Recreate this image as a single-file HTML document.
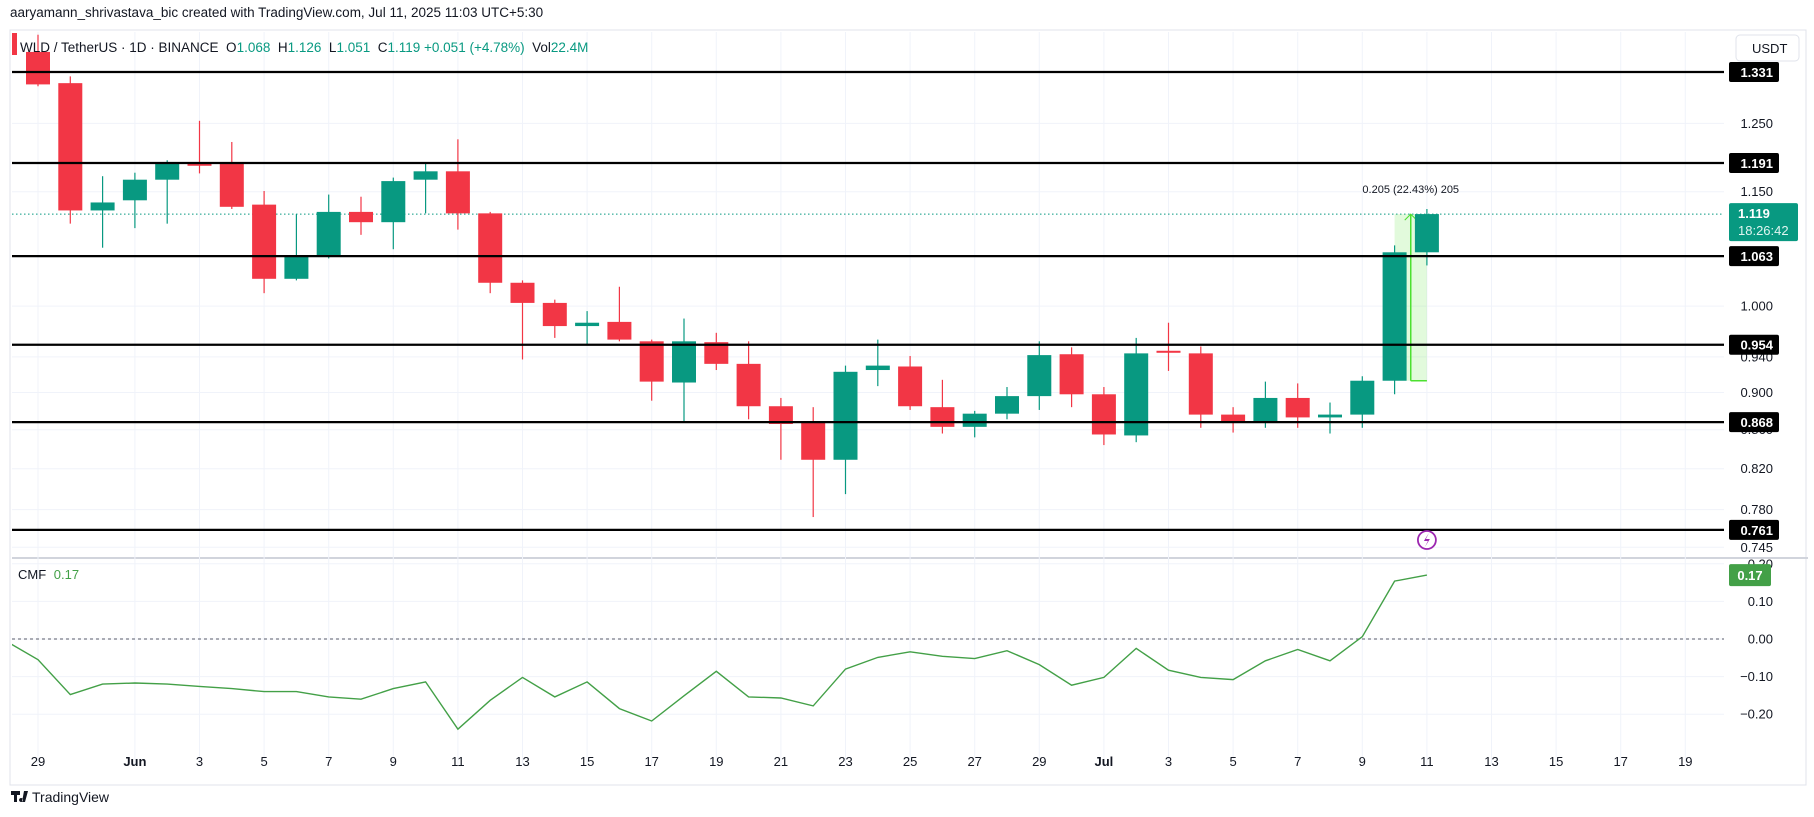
<!DOCTYPE html>
<html><head><meta charset="utf-8">
<style>
html,body{margin:0;padding:0;background:#fff;width:1814px;height:817px;overflow:hidden;font-family:"Liberation Sans",sans-serif;}
svg{display:block}
</style></head>
<body>
<svg id="chart" width="1814" height="817" xmlns="http://www.w3.org/2000/svg" font-family="Liberation Sans, sans-serif"></svg>
<script>
// ---- data ----
const dates = ["May29","May30","May31","Jun1","Jun2","Jun3","Jun4","Jun5","Jun6","Jun7","Jun8","Jun9","Jun10","Jun11","Jun12","Jun13","Jun14","Jun15","Jun16","Jun17","Jun18","Jun19","Jun20","Jun21","Jun22","Jun23","Jun24","Jun25","Jun26","Jun27","Jun28","Jun29","Jun30","Jul1","Jul2","Jul3","Jul4","Jul5","Jul6","Jul7","Jul8","Jul9","Jul10","Jul11"];
const opens  = [1.364,1.313,1.124,1.138,1.167,1.190,1.191,1.132,1.034,1.062,1.122,1.108,1.167,1.179,1.120,1.029,1.004,0.976,0.981,0.958,0.911,0.957,0.932,0.885,0.868,0.829,0.925,0.929,0.884,0.863,0.877,0.896,0.943,0.898,0.854,0.947,0.944,0.876,0.869,0.894,0.873,0.876,0.913,1.068];
const highs  = [1.393,1.324,1.172,1.177,1.195,1.254,1.222,1.151,1.119,1.146,1.143,1.170,1.191,1.226,1.122,1.032,1.008,0.994,1.024,0.960,0.985,0.968,0.958,0.894,0.884,0.930,0.960,0.941,0.914,0.880,0.906,0.958,0.951,0.906,0.962,0.980,0.952,0.884,0.912,0.910,0.889,0.918,1.077,1.126];
const lows   = [1.308,1.106,1.074,1.100,1.106,1.176,1.126,1.016,1.032,1.060,1.091,1.072,1.120,1.098,1.016,0.937,0.962,0.954,0.958,0.891,0.869,0.925,0.871,0.829,0.773,0.795,0.907,0.881,0.856,0.852,0.871,0.881,0.884,0.844,0.847,0.924,0.862,0.857,0.862,0.862,0.856,0.862,0.898,1.051];
const closes = [1.311,1.124,1.135,1.167,1.191,1.187,1.129,1.034,1.062,1.122,1.108,1.165,1.179,1.120,1.029,1.004,0.976,0.980,0.960,0.912,0.958,0.932,0.885,0.866,0.829,0.923,0.930,0.885,0.863,0.877,0.896,0.942,0.898,0.855,0.944,0.945,0.876,0.869,0.894,0.873,0.876,0.913,1.068,1.119];
const cmfDays = [-1,0,1,2,3,4,5,6,7,8,9,10,11,12,13,14,15,16,17,18,19,20,21,22,23,24,25,26,27,28,29,30,31,32,33,34,35,36,37,38,39,40,41,42,43];
const cmfValues = [-0.005,-0.055,-0.148,-0.12,-0.117,-0.12,-0.126,-0.132,-0.14,-0.14,-0.154,-0.16,-0.132,-0.114,-0.24,-0.163,-0.102,-0.154,-0.114,-0.185,-0.218,-0.151,-0.086,-0.154,-0.157,-0.178,-0.08,-0.049,-0.034,-0.046,-0.052,-0.031,-0.068,-0.123,-0.102,-0.025,-0.083,-0.102,-0.108,-0.058,-0.028,-0.058,0.006,0.154,0.17];
const levels = [1.331,1.191,1.063,0.954,0.868,0.761];
const priceTicks = [1.250,1.150,1.000,0.940,0.900,0.860,0.820,0.780,0.745];
const cmfTicks = [0.20,0.10,0.00,-0.10,-0.20];
const xTickDays = [0,3,5,7,9,11,13,15,17,19,21,23,25,27,29,31,33,35,37,39,41,43,45,47,49,51];
const xTickLabels = ["29","Jun","3","5","7","9","11","13","15","17","19","21","23","25","27","29","Jul","3","5","7","9","11","13","15","17","19"];

// ---- scales ----
const PL=12, PR=1724, PT=32, PB=557, CT=559, CB=775;
const x = d => 38 + 32.3*d;
const y = p => 72 + (Math.log(1.331) - Math.log(p))*819;
const yc = v => 639 - v*376;

const svg=document.getElementById('chart');
const NS="http://www.w3.org/2000/svg";
function mk(tag,attrs,parent){const e=document.createElementNS(NS,tag);for(const k in attrs)e.setAttribute(k,attrs[k]);(parent||svg).appendChild(e);return e;}

// clip paths
const defs=mk('defs',{});
const cp=mk('clipPath',{id:'cp'},defs); mk('rect',{x:PL,y:PT,width:PR-PL,height:PB-PT},cp);
const cc=mk('clipPath',{id:'cc'},defs); mk('rect',{x:PL,y:CT,width:PR-PL,height:CB-CT-10},cc);

// header
let t=mk('text',{x:10,y:17,'font-size':13.5,fill:'#131722'});t.textContent="aaryamann_shrivastava_bic created with TradingView.com, Jul 11, 2025 11:03 UTC+5:30";


// frame
let fr=mk('rect',{x:PL-2,y:PT-2,width:1808-PL,height:CB-PT+12,fill:'none',stroke:'#e0e3eb','stroke-width':1});

let dv=mk('line',{x1:PL,x2:1808,y1:558,y2:558,stroke:'#d1d4dc','stroke-width':2});


// vertical grid
xTickDays.forEach((d,i)=>{
  const g=mk('line',{x1:x(d),x2:x(d),y1:PT,y2:CB-10,stroke:'#f0f3fa','stroke-width':1});
  
  const l=mk('text',{x:x(d),y:766,'font-size':13,fill:'#131722','text-anchor':'middle','font-weight':(xTickLabels[i]==='Jun'||xTickLabels[i]==='Jul')?'bold':'normal'});
  l.textContent=xTickLabels[i];
  
});
// horizontal grid + price ticks
priceTicks.forEach(p=>{
  const g=mk('line',{x1:PL,x2:PR,y1:y(p),y2:y(p),stroke:'#f0f3fa'});
  
  const l=mk('text',{x:1773,y:y(p)+4.5,'font-size':13,fill:'#131722','text-anchor':'end'});
  l.textContent=p.toFixed(3);
  
});
cmfTicks.forEach(v=>{
  const g=mk('line',{x1:PL,x2:PR,y1:yc(v),y2:yc(v),stroke:'#f0f3fa'});
  
  const l=mk('text',{x:1773,y:yc(v)+4.5,'font-size':13,fill:'#131722','text-anchor':'end'});
  l.textContent=(v<0?'\u2212'+Math.abs(v).toFixed(2):v.toFixed(2));
  
});

// current price dotted
const last=closes[closes.length-1];
let cl=mk('line',{x1:PL,x2:PR,y1:y(last),y2:y(last),stroke:'#089981','stroke-dasharray':'1.5 2.5','stroke-width':1});


// measure box
const mg=mk('g',{'clip-path':'url(#cp)'});

const mx1=x(42), mx2=x(43);
mk('rect',{x:mx1,y:y(closes[43]),width:mx2-mx1,height:y(opens[42])-y(closes[43]),fill:'rgba(110,230,80,0.2)'},mg);
mk('line',{x1:(mx1+mx2)/2,x2:(mx1+mx2)/2,y1:y(opens[42]),y2:y(closes[43]),stroke:'#4ce030','stroke-width':1.5},mg);
mk('line',{x1:(mx1+mx2)/2,x2:mx2,y1:y(opens[42]),y2:y(opens[42]),stroke:'#4ce030','stroke-width':1.5},mg);
mk('path',{d:`M${(mx1+mx2)/2-6} ${y(closes[43])+6} L${(mx1+mx2)/2} ${y(closes[43])} L${(mx1+mx2)/2+6} ${y(closes[43])+6}`,stroke:'#4ce030',fill:'none'},mg);
let mt=mk('text',{x:(mx1+mx2)/2,y:y(closes[43])-21,'font-size':11,fill:'#131722','text-anchor':'middle'});
mt.textContent="0.205 (22.43%) 205";


// candles
const cg=mk('g',{'clip-path':'url(#cp)'});
dates.forEach((dt,i)=>{
  const up=closes[i]>=opens[i], col=up?'#089981':'#f23645', cx=x(i);
  const g=mk('g',{},cg);
  
  mk('line',{x1:cx,x2:cx,y1:y(highs[i]),y2:y(lows[i]),stroke:col,'stroke-width':1.2},g);
  const top=y(Math.max(opens[i],closes[i])), bot=y(Math.min(opens[i],closes[i]));
  mk('rect',{x:cx-12,y:top,width:24,height:Math.max(bot-top,2),fill:col},g);
});

// level lines
levels.forEach(p=>{
  const l=mk('line',{x1:PL,x2:PR,y1:y(p),y2:y(p),stroke:'#000','stroke-width':2.2});
  
  const b=mk('rect',{x:1729,y:y(p)-10,width:50,height:20,fill:'#000',rx:2});
  
  const tx=mk('text',{x:1773,y:y(p)+5,'font-size':13,'font-weight':'bold',fill:'#fff','text-anchor':'end'});
  tx.textContent=p.toFixed(3);
  
});
// current price label
let pb=mk('rect',{x:1729,y:y(last)-11,width:69,height:38,fill:'#089981',rx:2});

let pt1=mk('text',{x:1738,y:y(last)+4,'font-size':13,'font-weight':'bold',fill:'#fff'});pt1.textContent=last.toFixed(3);

let pt2=mk('text',{x:1738,y:y(last)+21,'font-size':13,fill:'#e0f5f0'});pt2.textContent="18:26:42";


// USDT button
let ub=mk('rect',{x:1736,y:35,width:63,height:26,fill:'#fff',stroke:'#e0e3eb',rx:4});

let ut=mk('text',{x:1752,y:53,'font-size':13,fill:'#131722'});ut.textContent="USDT";


// legend
let lm=mk('rect',{x:12,y:33,width:5,height:22,fill:'#f23645'});

const leg=mk('text',{x:20,y:52,'font-size':13.5,fill:'#131722'});

[["WLD / TetherUS · 1D · BINANCE  O","#131722"],["1.068","#089981"],["  H","#131722"],["1.126","#089981"],["  L","#131722"],["1.051","#089981"],["  C","#131722"],["1.119","#089981"],[" +0.051 (+4.78%)","#089981"],["  Vol","#131722"],["22.4M","#089981"]].forEach(([s,c])=>{const ts=mk('tspan',{fill:c,'xml:space':'preserve'},leg);ts.setAttribute('style','white-space:pre');ts.textContent=s;});

// lightning icon
const li=mk('g',{});
mk('circle',{cx:x(43),cy:540,r:9,fill:'#fff',stroke:'#9c27b0','stroke-width':1.8},li);
mk('path',{d:`M${x(43)+2} ${533} L${x(43)-3} ${541} L${x(43)+1} ${541} L${x(43)-2} ${547} L${x(43)+3} ${539} L${x(43)-1} ${539} Z`,fill:'#9c27b0'},li);

// CMF pane
let zl=mk('line',{x1:PL,x2:PR,y1:yc(0),y2:yc(0),stroke:'#787b86','stroke-dasharray':'3 3','stroke-width':1.2});

let pts=cmfDays.map((d,i)=>x(d).toFixed(1)+','+yc(cmfValues[i]).toFixed(1)).join(' ');
let cm=mk('polyline',{points:pts,fill:'none',stroke:'#43a047','stroke-width':1.4,'clip-path':'url(#cc)'});

const lastC=cmfValues[cmfValues.length-1];
let ct=mk('text',{x:18,y:579,'font-size':13,fill:'#131722'});

let ts1=mk('tspan',{},ct);ts1.textContent="CMF ";
let ts2=mk('tspan',{fill:'#43a047',dx:4},ct);ts2.textContent=lastC.toFixed(2);
let cb=mk('rect',{x:1729,y:yc(lastC)-11,width:42,height:22,fill:'#43a047',rx:2});

let cbt=mk('text',{x:1750,y:yc(lastC)+5,'font-size':13,'font-weight':'bold',fill:'#fff','text-anchor':'middle'});cbt.textContent=lastC.toFixed(2);


// footer logo
const fg=mk('g',{});
mk('path',{d:'M11 791 h9 v4 h-3 v7 h-3 v-7 h-3 z M21 798 a2 2 0 1 0 0.1 0 M24 791 h4 l-3 11 h-3 z',fill:'#131722'},fg);
let ft=mk('text',{x:32,y:802,'font-size':14,fill:'#131722'},fg);ft.textContent="TradingView";
</script>
</body></html>
